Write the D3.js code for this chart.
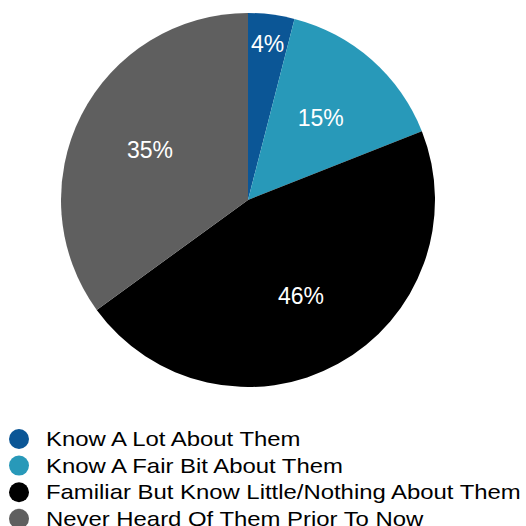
<!DOCTYPE html>
<html>
<head>
<meta charset="utf-8">
<script src="https://cdn.jsdelivr.net/npm/d3@7"></script>
<style>
  html, body { margin: 0; padding: 0; background: #fff; }
  svg { display: block; font-family: "Liberation Sans", Arial, sans-serif; }
</style>
</head>
<body>
<svg id="chart" width="526" height="526"></svg>
<script>
// data
var categories = [
  "Know A Lot About Them",
  "Know A Fair Bit About Them",
  "Familiar But Know Little/Nothing About Them",
  "Never Heard Of Them Prior To Now"
]
var values = [4, 15, 46, 35]
var colors = ["#0b5696", "#2899b9", "#000000", "#5f5f5f"]

var svg = d3.select("#chart")
var cx = 248, cy = 200, r = 187

var data = categories.map(function(c, i) {
  return { name: c, value: values[i], color: colors[i] }
})

var pie = d3.pie().sort(null).value(function(d) { return d.value })
var arc = d3.arc().innerRadius(0).outerRadius(r)
var labelArc = d3.arc().innerRadius(110).outerRadius(110)
var smallLabelArc = d3.arc().innerRadius(157).outerRadius(157)

var g = svg.append("g").attr("transform", "translate(" + cx + "," + cy + ")")
var arcs = pie(data)

g.selectAll("path.slice")
  .data(arcs).enter()
  .append("path")
  .attr("class", "slice")
  .attr("d", arc)
  .attr("fill", function(d) { return d.data.color })

g.selectAll("text.lbl")
  .data(arcs).enter()
  .append("text")
  .attr("class", "lbl")
  .attr("transform", function(d) {
    var a = d.data.value < 8 ? smallLabelArc : labelArc
    return "translate(" + a.centroid(d) + ")"
  })
  .attr("text-anchor", "middle")
  .attr("dy", "0.35em")
  .attr("fill", "#fff")
  .attr("font-size", "23px")
  .text(function(d) { return d.data.value + "%" })

// legend
var legend = svg.append("g").attr("transform", "translate(0,439)")
var item = legend.selectAll("g.item")
  .data(data).enter()
  .append("g")
  .attr("class", "item")
  .attr("transform", function(d, i) { return "translate(0," + (i * 26.6) + ")" })

item.append("circle")
  .attr("cx", 19)
  .attr("cy", 0)
  .attr("r", 10)
  .attr("fill", function(d) { return d.color })

// legend text in the reference is drawn a bit wider than normal
item.append("text")
  .attr("transform", "translate(46,0) scale(1.195,1)")
  .attr("dy", "0.35em")
  .attr("font-size", "20px")
  .attr("fill", "#000")
  .text(function(d) { return d.name })
</script>
</body>
</html>
